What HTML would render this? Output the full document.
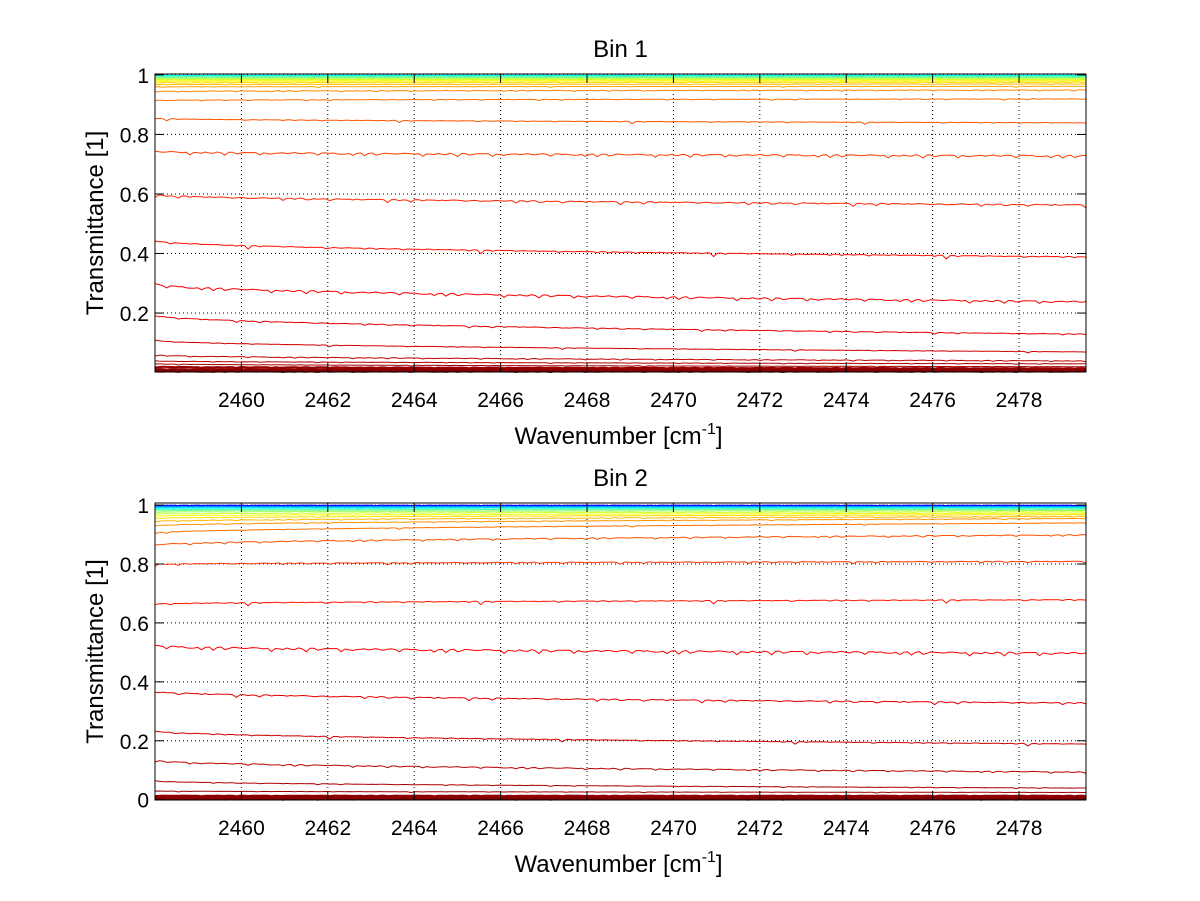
<!DOCTYPE html>
<html><head><meta charset="utf-8"><style>
body{margin:0;background:#fff;}
svg{display:block;font-family:"Liberation Sans",sans-serif;}
</style></head><body>
<svg id="fig" width="1200" height="901" viewBox="0 0 1200 901"></svg>
<script>
const xTicks=[2460,2462,2464,2466,2468,2470,2472,2474,2476,2478];
const yTicks1=[0.2,0.4,0.6,0.8,1];
const yTicks2=[0,0.2,0.4,0.6,0.8,1];
// shared spectral dip profile across wavenumber (depth units)
const dipProfile=[0,0.3,0.1,0.6,0.2,0.1,0.9,0.2,0.4,0.1,0.2,0.8,0.1,0.3,0.2,0.5,0.1,0.2,0.7,0.1,0.3,0.2,0.9,0.3,0.1,0.2,0.5,0.2,0.1,0.6,0.2,0.3,0.1,0.8,0.2,0.1,0.4,0.2,0.3,0.9,0.1,0.2,0.5,0.1,0.3,0.7,0.2,0.1,0.4,0.2,0.6,0.1,0.3,0.2,0.8,0.1,0.2,0.4,0.1,0.3];
// bin 1 levels: start and end transmittance of each trace
const bin1Start=[0.004,0.008,0.012,0.02,0.03,0.04,0.06,0.11,0.195,0.30,0.445,0.60,0.745,0.855,0.915,0.945,0.96,0.968,0.974,0.979,0.983,0.986,0.989,0.992,0.994,0.996,0.998,0.999];
const bin1End=[0.004,0.008,0.012,0.015,0.02,0.03,0.04,0.07,0.13,0.24,0.39,0.565,0.73,0.84,0.92,0.95,0.962,0.97,0.976,0.98,0.984,0.987,0.99,0.992,0.994,0.996,0.998,0.999];
// bin 2 levels
const bin2Start=[0.002,0.005,0.009,0.014,0.03,0.065,0.135,0.235,0.37,0.525,0.665,0.80,0.865,0.905,0.93,0.945,0.955,0.963,0.97,0.976,0.981,0.985,0.989,0.992,0.995,0.997,0.999,1.0];
const bin2End=[0.002,0.005,0.009,0.014,0.025,0.04,0.095,0.19,0.33,0.50,0.68,0.81,0.90,0.94,0.955,0.962,0.968,0.973,0.978,0.982,0.986,0.989,0.992,0.994,0.996,0.998,0.999,1.0];
const titles=["Bin 1","Bin 2"];

const NS="http://www.w3.org/2000/svg";
const svg=document.getElementById('fig');
function el(tag,attrs,parent){const e=document.createElementNS(NS,tag);for(const k in attrs)e.setAttribute(k,attrs[k]);(parent||svg).appendChild(e);return e;}
function jet(v){const r=Math.min(Math.max(Math.min(4*v-1.5,-4*v+4.5),0),1);const g=Math.min(Math.max(Math.min(4*v-0.5,-4*v+3.5),0),1);const b=Math.min(Math.max(Math.min(4*v+0.5,-4*v+2.5),0),1);return `rgb(${Math.round(r*255)},${Math.round(g*255)},${Math.round(b*255)})`;}

const X0=2458.0,X1=2479.55,L=155,R=1086;
const panels=[{top:74,bot:372,y0:0.002,y1:1.003,ticks:yTicks1,s:bin1Start,e:bin1End,span:0.62,pw:1.5},
              {top:503,bot:800,y0:-0.001,y1:1.007,ticks:yTicks2,s:bin2Start,e:bin2End,span:0.88,pw:1.8}];
panels.forEach((p,pi)=>{
  const g=el('g',{});
  
  
  const xs=v=>L+(v-X0)/(X1-X0)*(R-L);
  const ys=v=>p.bot-(v-p.y0)/(p.y1-p.y0)*(p.bot-p.top);
  el('rect',{x:L,y:p.top,width:R-L,height:p.bot-p.top,fill:'#fff'},g);
  xTicks.forEach(t=>{const l=el('line',{x1:xs(t),x2:xs(t),y1:p.top,y2:p.bot,stroke:'#000','stroke-width':1,'stroke-dasharray':'1,3'},g);});
  p.ticks.forEach(t=>{const l=el('line',{x1:L,x2:R,y1:ys(t),y2:ys(t),stroke:'#000','stroke-width':1,'stroke-dasharray':'1,3'},g);});
  const n=p.s.length, m=dipProfile.length;
  for(let i=0;i<n;i++){
    const pts=[];
    const steps=240;
    for(let k=0;k<=steps;k++){
      const f=k/steps;
      const base=p.s[i]+(p.e[i]-p.s[i])*Math.sqrt(f);
      const d=dipProfile[(k*3+i)%m];
      const amp=0.05*base*(1-base)+0.002;
      let v=base-amp*d*(k%3==0?1:0.4);
      v=Math.min(v,p.y1);
      pts.push(xs(X0+f*(X1-X0)).toFixed(1)+','+ys(v).toFixed(1));
    }
    const c=jet(1-p.span*Math.pow(i/(n-1),p.pw));
    const pl=el('polyline',{points:pts.join(' '),fill:'none',stroke:c,'stroke-width':(i<4?2:1)},g);
    
    
  }
  el('rect',{x:L,y:p.top,width:R-L,height:p.bot-p.top,fill:'none',stroke:'#000','stroke-width':1},g);
  xTicks.forEach(t=>{
    el('line',{x1:xs(t),x2:xs(t),y1:p.bot,y2:p.bot-9,stroke:'#000'},g);
    el('line',{x1:xs(t),x2:xs(t),y1:p.top,y2:p.top+9,stroke:'#000'},g);
    const tx=el('text',{x:xs(t),y:p.bot+35,'font-size':21,'text-anchor':'middle'},g);tx.textContent=t;
    
  });
  p.ticks.forEach(t=>{
    el('line',{x1:L,x2:L+9,y1:ys(t),y2:ys(t),stroke:'#000'},g);
    el('line',{x1:R,x2:R-9,y1:ys(t),y2:ys(t),stroke:'#000'},g);
    const tx=el('text',{x:L-6,y:ys(t)+8,'font-size':21,'text-anchor':'end'},g);tx.textContent=String(t);
    
  });
  const tt=el('text',{x:(L+R)/2,y:p.top-17,'font-size':24,'text-anchor':'middle'},g);tt.textContent=titles[pi];
  
  const xl=el('text',{x:(L+R)/2-2,y:p.bot+72,'font-size':24,'text-anchor':'middle'},g);
  xl.innerHTML='Wavenumber [cm<tspan dy="-10" font-size="16">-1</tspan><tspan dy="10">]</tspan>';
  
  const yl=el('text',{x:0,y:0,'font-size':24,'text-anchor':'middle',transform:`translate(103,${(p.top+p.bot)/2}) rotate(-90)`},g);
  yl.textContent='Transmittance [1]';
  
});
</script>
</body></html>
